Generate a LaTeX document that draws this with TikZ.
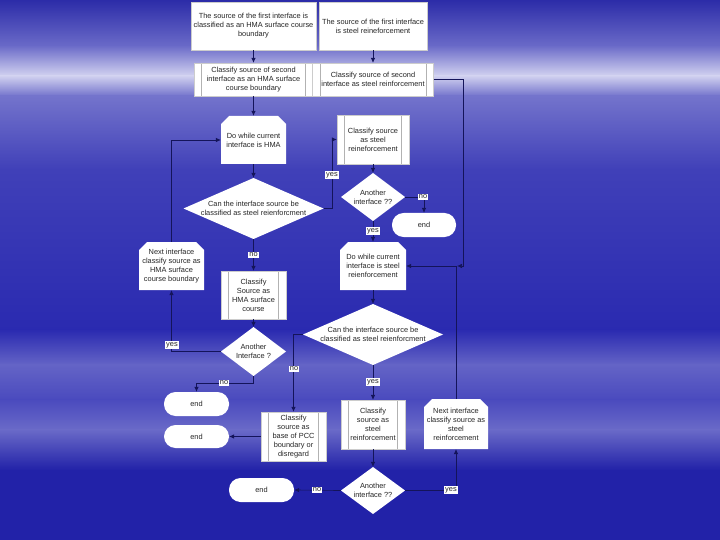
\documentclass[tikz,border=0pt]{standalone}
\usepackage{fontspec}
\setmainfont{Liberation Sans}
\usetikzlibrary{arrows.meta}
\definecolor{navy}{HTML}{14145A}
\definecolor{bA}{HTML}{2C2CA8}
\definecolor{bB}{HTML}{6A6AC8}
\definecolor{bC}{HTML}{D2D2F0}
\definecolor{bD}{HTML}{7474CC}
\definecolor{bE}{HTML}{4040B8}
\definecolor{bF}{HTML}{2A2AB0}
\definecolor{bG}{HTML}{6464C6}
\definecolor{bH}{HTML}{4A4ABE}
\definecolor{bI}{HTML}{6A6AC8}
\definecolor{bJ}{HTML}{2222A8}
\tikzset{
  base/.style={inner sep=0pt, align=center, font=\fontsize{7.4}{9}\selectfont, text=black!85},
  proc/.style={base, rectangle, fill=white, draw=gray!40, line width=0.3pt},
  pproc/.style={proc, path picture={\draw[gray!60, line width=0.4pt]
      ([xshift=7.5pt]path picture bounding box.north west) -- ([xshift=7.5pt]path picture bounding box.south west)
      ([xshift=-7.5pt]path picture bounding box.north east) -- ([xshift=-7.5pt]path picture bounding box.south east);}},
  loopbox/.style={base, rectangle, path picture={\fill[white]
      (path picture bounding box.south west) -- ([yshift=-8pt]path picture bounding box.north west)
      -- ([xshift=8pt]path picture bounding box.north west) -- ([xshift=-8pt]path picture bounding box.north east)
      -- ([yshift=-8pt]path picture bounding box.north east) -- (path picture bounding box.south east) -- cycle;}},
  dec/.style={base, rectangle, path picture={\fill[white]
      (path picture bounding box.north) -- (path picture bounding box.east)
      -- (path picture bounding box.south) -- (path picture bounding box.west) -- cycle;}},
  term/.style={base, rectangle, fill=white, rounded corners=11.5pt},
  lab/.style={fill=white, inner sep=1.3pt, font=\fontsize{7.4}{8}\selectfont, text=black!85},
  arr/.style={draw=navy, line width=0.65pt, -{Latex[length=5pt,width=4.5pt]}},
}
\begin{document}
\begin{tikzpicture}[x=1pt,y=-1pt]
\useasboundingbox (0,0) rectangle (720,540);
% background
\shade[top color=bA, bottom color=bB] (0,0) rectangle (720,46);
\shade[top color=bB, bottom color=bC] (0,45.5) rectangle (720,76);
\shade[top color=bC, bottom color=bD] (0,75.5) rectangle (720,96);
\shade[top color=bD, bottom color=bE] (0,95.5) rectangle (720,170);
\shade[top color=bE, bottom color=bF] (0,169.5) rectangle (720,330);
\shade[top color=bF, bottom color=bG] (0,329.5) rectangle (720,365);
\shade[top color=bG, bottom color=bH] (0,364.5) rectangle (720,400);
\shade[top color=bH, bottom color=bI] (0,399.5) rectangle (720,430);
\shade[top color=bI, bottom color=bJ] (0,429.5) rectangle (720,470);
\fill[bJ] (0,469.5) rectangle (720,540);

% nodes
\node[proc, minimum width=125pt, minimum height=48pt] (A) at (253.5,26)
  {The source of the first interface is\\classified as an HMA surface course\\boundary};
\node[proc, minimum width=108pt, minimum height=48pt] (B) at (373,26)
  {The source of the first interface\\is steel reineforcement};
\node[pproc, minimum width=119pt, minimum height=33pt] (C) at (253.5,79.5)
  {Classify source of second\\interface as an HMA surface\\course boundary};
\node[pproc, minimum width=121pt, minimum height=33pt] (D) at (373,79.5)
  {Classify source of second\\interface as steel reinforcement};
\node[loopbox, minimum width=65pt, minimum height=48pt] (Do1) at (253.5,140)
  {Do while current\\interface is HMA};
\node[dec, minimum width=140pt, minimum height=61pt] (Dia1) at (253.5,208.5)
  {Can the interface source be\\classified as steel reienforcment};
\node[pproc, minimum width=72pt, minimum height=49pt] (S1) at (373,139.5)
  {Classify source\\as steel\\reineforcement};
\node[dec, minimum width=64pt, minimum height=48pt] (Dia2) at (373,197)
  {Another\\interface ??};
\node[term, minimum width=64pt, minimum height=24pt] (E1) at (424,225) {end};
\node[loopbox, minimum width=66pt, minimum height=48pt] (Do2) at (373,266)
  {Do while current\\interface is steel\\reienforcement};
\node[dec, minimum width=140pt, minimum height=61pt] (Dia3) at (373,334.5)
  {Can the interface source be\\classified as steel reienforcment};
\node[pproc, minimum width=65pt, minimum height=48pt] (H1) at (253.5,295)
  {Classify\\Source as\\HMA surface\\course};
\node[loopbox, minimum width=65pt, minimum height=48pt] (N1) at (171.5,266)
  {Next interface\\classify source as\\HMA surface\\course boundary};
\node[dec, minimum width=65pt, minimum height=49pt] (Dia5) at (253.5,351.5)
  {Another\\Interface ?};
\node[term, minimum width=65pt, minimum height=24pt] (E2) at (196.5,404) {end};
\node[pproc, minimum width=65pt, minimum height=49pt] (P) at (293.5,436.5)
  {Classify\\source as\\base of PCC\\boundary or\\disregard};
\node[term, minimum width=65pt, minimum height=23pt] (E3) at (196.5,436.5) {end};
\node[pproc, minimum width=64pt, minimum height=49pt] (S2) at (373,424.5)
  {Classify\\source as\\steel\\reinforcement};
\node[dec, minimum width=64pt, minimum height=47pt] (Dia4) at (373,490.5)
  {Another\\interface ??};
\node[term, minimum width=65pt, minimum height=24pt] (E4) at (261.5,490) {end};
\node[loopbox, minimum width=64pt, minimum height=50pt] (N2) at (456,424)
  {Next interface\\classify source as\\steel\\reinforcement};

\coordinate (J1) at (N2.north |- Do2.east);
\coordinate (DJ) at (463,266);

% connectors
\draw[arr] (A.south) -- (C.north);
\draw[arr] (B.south) -- (D.north);
\draw[arr] (C.south) -- (Do1.north);
\draw[arr] (D.east) -| (DJ) -- ([xshift=1pt]J1);
\draw[arr] (N2.north) |- (Do2.east);
\draw[arr] (Do1.south) -- (Dia1.north);
\draw[arr] (Dia1.east) -- ++(9,0) |- (S1.west);
\draw[arr] (S1.south) -- (Dia2.north);
\draw[arr] (Dia2.east) -| (E1.north);
\draw[arr] (Dia2.south) -- (Do2.north);
\draw[arr] (Do2.south) -- (Dia3.north);
\draw[arr] (Dia3.south) -- (S2.north);
\draw[arr] (Dia3.west) -| (P.north);
\draw[arr] (P.west) -- (E3.east);
\draw[arr] (S2.south) -- (Dia4.north);
\draw[arr] (Dia4.west) -- (E4.east);
\draw[arr] (Dia4.east) -| (N2.south);
\draw[arr] (Dia1.south) -- (H1.north);
\draw[arr] (H1.south) -- (Dia5.north);
\draw[arr] (Dia5.west) -| (N1.south);
\draw[arr] (N1.north) |- (Do1.west);
\draw[arr] (Dia5.south) -- ++(0,7) -| (E2.north);

% labels
\node[lab] (l1) at (332,175) {yes};
\node[lab] (l2) at (423,197) {no};
\node[lab] (l3) at (373,231) {yes};
\node[lab] (l4) at (373,382) {yes};
\node[lab] (l5) at (294,369) {no};
\node[lab] (l6) at (317,490) {no};
\node[lab] (l7) at (451,490) {yes};
\node[lab] (l8) at (253.5,255) {no};
\node[lab] (l9) at (172,345) {yes};
\node[lab] (l10) at (224,383) {no};
\end{tikzpicture}
\end{document}
